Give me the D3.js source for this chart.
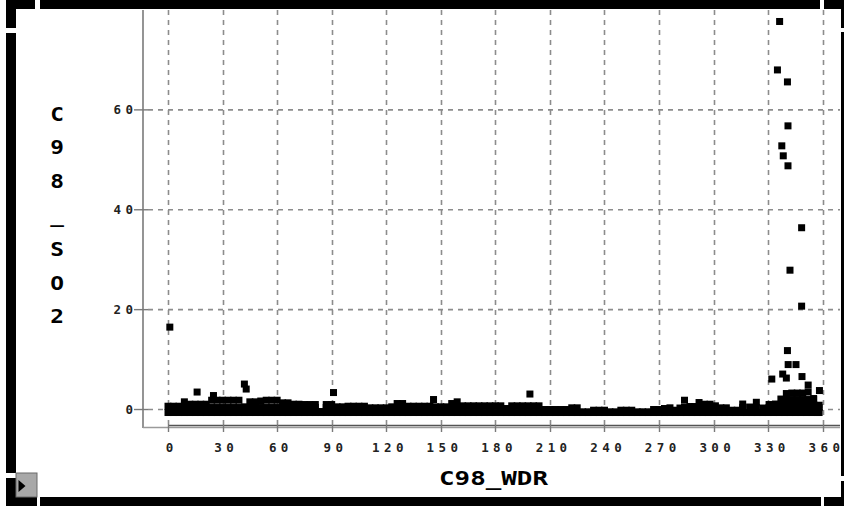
<!DOCTYPE html>
<html>
<head>
<meta charset="utf-8">
<script src="https://cdn.jsdelivr.net/npm/d3@7"></script>
<style>
  html, body { margin: 0; padding: 0; background: #fff; }
  svg { display: block; }
</style>
</head>
<body>
<svg id="chart" width="844" height="506"></svg>
<script>
// ---- axis content ----
const xTicks = [0, 30, 60, 90, 120, 150, 180, 210, 240, 270, 300, 330, 360];
const yTicks = [0, 20, 40, 60];
const xTitle = "C98_WDR";
const yTitle = "C98_SO2";

// ---- readings: wind direction (deg) vs SO2 ----
// upper edge of the dense low-concentration band
const bandDeg = [0, 3, 6, 9, 12, 15, 18, 21, 24, 27, 30, 33, 36, 39, 42, 45, 48, 51, 54, 57,
  60, 63, 66, 69, 72, 75, 78, 81, 84, 87, 90, 93, 96, 99, 102, 105, 108, 111, 114, 117,
  120, 123, 126, 129, 132, 135, 138, 141, 144, 147, 150, 153, 156, 159, 162, 165, 168, 171, 174, 177,
  180, 183, 186, 189, 192, 195, 198, 201, 204, 207, 210, 213, 216, 219, 222, 225, 228, 231, 234, 237,
  240, 243, 246, 249, 252, 255, 258, 261, 264, 267, 270, 273, 276, 279, 281.5, 284, 287, 289.5, 292, 295,
  298, 301, 304, 307, 310, 313, 316, 319.8, 323.5, 327, 330.5, 334, 337, 340, 343, 346, 349, 352, 355, 358];
const bandVal = [0.66, 0.66, 0.66, 1.54, 1.06, 1.06, 1.06, 1.06, 1.86, 1.86, 1.86, 1.86, 1.86, 1.86, 0.54, 1.54, 1.54, 1.7, 1.86, 1.86,
  1.86, 1.34, 1.34, 1.06, 1.06, 1.0, 1.0, 1.0, -0.4, 1.0, 1.0, 0.54, 0.54, 0.66, 0.66, 0.66, 0.66, 0.34, 0.34, 0.34,
  0.34, 0.54, 1.2, 1.2, 0.66, 0.66, 0.66, 0.66, 0.66, 0.54, 0.54, 0.54, 1.2, 1.54, 0.74, 0.74, 0.74, 0.74, 0.74, 0.74,
  0.74, 0.74, 0.2, 0.74, 0.74, 0.74, 0.74, 0.74, 0.74, 0.0, 0.0, 0.0, 0.0, 0.0, 0.34, 0.34, -0.46, -0.46, -0.14, -0.14,
  -0.14, -0.46, -0.46, -0.14, -0.14, -0.14, -0.46, -0.46, -0.46, 0.0, 0.0, 0.2, 0.34, -0.14, 0.3, 1.86, 0.6, 0.6, 1.4, 1.06,
  1.06, 0.74, 0.34, 0.34, -0.14, -0.14, 1.1, 0.5, 1.45, 0.3, 1.0, 1.1, 2.1, 3.2, 3.3, 3.3, 3.3, 4.9, 2.2, 0.86];

// second row of readings under the raised parts of the band
const midDeg = [9, 12, 15, 18, 21, 24, 27, 30, 33, 36, 39, 45, 48, 51, 54, 57, 60, 63, 66, 69,
  72, 75, 78, 81, 87, 90, 126, 129, 156, 159, 284, 292, 295, 298, 316, 323.5, 330.5, 334, 337, 340,
  343, 346, 349, 352, 355, 358];
const midVal = [0.4, 0.4, 0.4, 0.4, 0.4, 0.4, 0.4, 0.4, 0.4, 0.4, 0.4, 0.4, 0.4, 0.4, 0.4, 0.4, 0.4, 0.4, 0.4, 0.4,
  0.4, 0.4, 0.4, 0.4, 0.4, 0.4, 0.4, 0.4, 0.4, 0.4, 0.4, 0.4, 0.4, 0.4, 0.4, 0.4, 0.4, 0.4, 0.4, 0.4,
  0.4, 0.4, 0.4, 0.4, 0.4, 0.4];

// readings inside the north-westerly bulge
const bulgeDeg = [337, 340, 343, 346, 349, 352, 355, 340, 343, 346, 349, 352, 355, 352];
const bulgeVal = [1.0, 1.0, 1.0, 1.0, 1.0, 1.0, 1.0, 2.0, 2.0, 2.0, 2.0, 2.0, 2.0, 3.5];

// lowest readings across the whole compass
const floorDeg = [0, 3, 6, 9, 12, 15, 18, 21, 24, 27, 30, 33, 36, 39, 42, 45, 48, 51, 54, 57,
  60, 63, 66, 69, 72, 75, 78, 81, 84, 87, 90, 93, 96, 99, 102, 105, 108, 111, 114, 117,
  120, 123, 126, 129, 132, 135, 138, 141, 144, 147, 150, 153, 156, 159, 162, 165, 168, 171, 174, 177,
  180, 183, 186, 189, 192, 195, 198, 201, 204, 207, 210, 213, 216, 219, 222, 225, 228, 231, 234, 237,
  240, 243, 246, 249, 252, 255, 258, 261, 264, 267, 270, 273, 276, 279, 282, 285, 288, 291, 294, 297,
  300, 303, 306, 309, 312, 315, 318, 321, 324, 327, 330, 333, 336, 339, 342, 345, 348, 351, 354, 357, 358];
const floorVal = [-0.6, -0.6, -0.6, -0.6, -0.6, -0.6, -0.6, -0.6, -0.6, -0.6, -0.6, -0.6, -0.6, -0.6, -0.6, -0.6, -0.6, -0.6, -0.6, -0.6,
  -0.6, -0.6, -0.6, -0.6, -0.6, -0.6, -0.6, -0.6, -0.6, -0.6, -0.6, -0.6, -0.6, -0.6, -0.6, -0.6, -0.6, -0.6, -0.6, -0.6,
  -0.6, -0.6, -0.6, -0.6, -0.6, -0.6, -0.6, -0.6, -0.6, -0.6, -0.6, -0.6, -0.6, -0.6, -0.6, -0.6, -0.6, -0.6, -0.6, -0.6,
  -0.6, -0.6, -0.6, -0.6, -0.6, -0.6, -0.6, -0.6, -0.6, -0.6, -0.6, -0.6, -0.6, -0.6, -0.6, -0.6, -0.6, -0.6, -0.6, -0.6,
  -0.6, -0.6, -0.6, -0.6, -0.6, -0.6, -0.6, -0.6, -0.6, -0.6, -0.6, -0.6, -0.6, -0.6, -0.6, -0.6, -0.6, -0.6, -0.6, -0.6,
  -0.6, -0.6, -0.6, -0.6, -0.6, -0.6, -0.6, -0.6, -0.6, -0.6, -0.6, -0.6, -0.6, -0.6, -0.6, -0.6, -0.6, -0.6, -0.6, -0.6, -0.6];

// isolated higher readings
const spikeDeg = [1, 16, 25, 42, 43, 91, 146, 199, 332, 338, 340, 340.6, 341, 345.3, 348.6, 358.2,
  348.4, 342, 348.4, 340.9, 338.3, 337.5, 340.9, 340.6, 335.1, 336.3];
const spikeVal = [16.5, 3.5, 2.8, 5.1, 4.1, 3.4, 2.0, 3.1, 6.1, 7.1, 6.3, 11.8, 9.0, 9.0, 6.6, 3.8,
  20.7, 27.9, 36.4, 48.8, 50.8, 52.8, 56.8, 65.6, 68.0, 77.7];

// ---- build point table ----
const pairs = (ds, vs) => ds.map((d, i) => ({ deg: d, so2: vs[i] }));
const points = [].concat(
  pairs(floorDeg, floorVal),
  pairs(midDeg, midVal),
  pairs(bulgeDeg, bulgeVal),
  pairs(bandDeg, bandVal),
  pairs(spikeDeg, spikeVal)
);

// ---- layout ----
const svg = d3.select("#chart");
const plot = { left: 143, right: 840, top: 10, bottom: 427 };

const x = d3.scaleLinear().domain([-13.75, 369.5]).range([plot.left, plot.right]);
const y = d3.scaleLinear().domain([-3.5, 80]).range([plot.bottom, plot.top]);

const GRID = "#8c8c8c";
const MONO = "'DejaVu Sans Mono', 'Liberation Mono', monospace";

// white background
svg.append("rect").attr("width", 844).attr("height", 506).attr("fill", "#fff");

// grid lines
const grid = svg.append("g").attr("stroke", GRID).attr("stroke-width", 1.6)
  .attr("stroke-dasharray", "5,5").attr("fill", "none");
grid.selectAll("line.v").data(xTicks).join("line").attr("class", "v")
  .attr("x1", d => Math.round(x(d)) + 0.5).attr("x2", d => Math.round(x(d)) + 0.5)
  .attr("y1", plot.top).attr("y2", plot.bottom - 3);
grid.selectAll("line.h").data(yTicks).join("line").attr("class", "h")
  .attr("x1", plot.left + 5).attr("x2", plot.right)
  .attr("y1", d => y(d)).attr("y2", d => y(d));

// axes (D3 axis generators, restyled)
const xAxis = d3.axisBottom(x).tickValues(xTicks).tickSize(0).tickFormat("");
const yAxis = d3.axisLeft(y).tickValues(yTicks).tickSize(0).tickFormat("");
svg.append("g").attr("transform", `translate(0,${plot.bottom})`).call(xAxis)
  .call(g => g.select(".domain").remove());
svg.append("g").attr("transform", `translate(${plot.left},0)`).call(yAxis)
  .call(g => g.select(".domain").remove());

// axis lines
svg.append("line").attr("x1", plot.left).attr("x2", plot.left)
  .attr("y1", plot.top).attr("y2", plot.bottom + 1)
  .attr("stroke", "#7a7a7a").attr("stroke-width", 1.6);
svg.append("line").attr("x1", plot.left).attr("x2", plot.right)
  .attr("y1", plot.bottom + 0.5).attr("y2", plot.bottom + 0.5)
  .attr("stroke", "#9a9a9a").attr("stroke-width", 1.6);
svg.append("line").attr("x1", x(0)).attr("x2", plot.right)
  .attr("y1", plot.bottom - 1.5).attr("y2", plot.bottom - 1.5)
  .attr("stroke", "#555").attr("stroke-width", 1.6);

// tick marks
svg.append("g").selectAll("line").data(xTicks).join("line")
  .attr("x1", d => Math.round(x(d)) + 0.5).attr("x2", d => Math.round(x(d)) + 0.5)
  .attr("y1", plot.bottom - 3).attr("y2", plot.bottom + 5)
  .attr("stroke", "#7a7a7a").attr("stroke-width", 1.4);
svg.append("g").selectAll("line").data(yTicks).join("line")
  .attr("x1", 134).attr("x2", 148)
  .attr("y1", d => y(d)).attr("y2", d => y(d))
  .attr("stroke", "#7a7a7a").attr("stroke-width", 1.4);

// tick labels
const LS = 4.4;
svg.append("g").selectAll("text").data(xTicks).join("text")
  .attr("x", d => x(d) + 1.5 + LS / 2).attr("y", 452)
  .attr("text-anchor", "middle")
  .style("font-family", MONO).style("font-weight", "bold").style("font-size", "12.5px")
  .style("letter-spacing", LS + "px")
  .attr("fill", "#222").text(d => d);
svg.append("g").selectAll("text").data(yTicks).join("text")
  .attr("x", 133 + LS).attr("y", d => y(d) + 4.6)
  .attr("text-anchor", "end")
  .style("font-family", MONO).style("font-weight", "bold").style("font-size", "12.5px")
  .style("letter-spacing", LS + "px")
  .attr("fill", "#222").text(d => d);

// axis titles
svg.append("text").attr("x", 439).attr("y", 485)
  .attr("textLength", 109).attr("lengthAdjust", "spacingAndGlyphs")
  .style("font-family", MONO).style("font-weight", "bold").style("font-size", "19px")
  .attr("fill", "#000").text(xTitle);
svg.append("g").selectAll("text").data(yTitle.split("")).join("text")
  .attr("transform", (d, i) => `translate(57,${120.5 + i * 33.8}) scale(1.2,1)`)
  .attr("text-anchor", "middle")
  .style("font-family", MONO).style("font-weight", "bold").style("font-size", "19px")
  .attr("fill", "#000").text(d => d);

// data points: 7px black squares
const S = 7;
svg.append("g").selectAll("rect").data(points).join("rect")
  .attr("x", d => x(d.deg) - S / 2).attr("y", d => y(d.so2) - S / 2)
  .attr("width", S).attr("height", S).attr("fill", "#000");

// window frame
const frame = svg.append("g").attr("fill", "#000");
[
  [40, 0, 780, 9], [824, 0, 20, 9],          // top edge
  [6, 0, 29, 9], [6, 0, 10, 28],             // top-left corner
  [6, 33, 10, 440],                          // left edge
  [6, 478, 10, 28], [6, 497, 31, 9],         // bottom-left corner
  [40, 497, 781, 9], [824, 497, 20, 9],      // bottom edge
  [841, 0, 3, 28], [841, 32, 3, 444], [841, 481, 3, 25] // right edge
].forEach(r => frame.append("rect").attr("x", r[0]).attr("y", r[1]).attr("width", r[2]).attr("height", r[3]));

// corner button
svg.append("rect").attr("x", 16).attr("y", 473).attr("width", 21).attr("height", 24)
  .attr("fill", "#a8a8a8").attr("stroke", "#6a6a6a").attr("stroke-width", 1);
svg.append("path").attr("d", "M18.5,480 L25.5,486 L18.5,492 Z").attr("fill", "#000");
</script>
</body>
</html>
